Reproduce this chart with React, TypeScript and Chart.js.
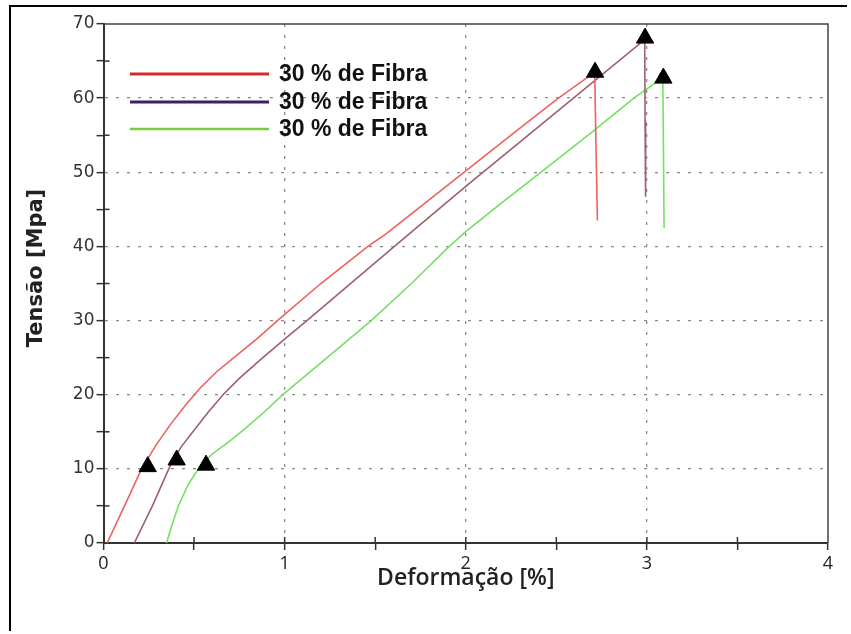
import React, { useEffect, useRef } from 'react';
import { Chart, registerables } from 'chart.js';

Chart.register(...registerables);

const legendLabels = ['30 % de Fibra', '30 % de Fibra', '30 % de Fibra'];
const legendColors = ['#d42a2a', '#3b1f6b', '#7cc843'];
const curveColors = ['#ee6161', '#9c6070', '#74e062'];

const redX = [0.02, 0.12, 0.21, 0.29, 0.37, 0.45, 0.53, 0.62, 0.72, 0.85, 0.97, 1.2, 1.46, 1.56, 1.99, 2.25, 2.506, 2.712, 2.718, 2.727];
const redY = [0, 5.2, 10, 13.2, 16, 18.5, 20.8, 23, 25, 27.6, 30.2, 35, 40, 41.7, 50, 55, 59.9, 63.5, 55, 43.5];

const brownX = [0.17, 0.27, 0.366, 0.43, 0.5, 0.58, 0.66, 0.75, 0.87, 1.0, 1.128, 1.606, 2.0, 2.3, 2.988, 2.99, 2.993];
const brownY = [0, 5, 10.3, 13, 15.2, 17.7, 20, 22.2, 24.8, 27.5, 30.1, 40, 48.1, 54.1, 67.9, 57, 46.7];

const greenX = [0.348, 0.38, 0.413, 0.47, 0.533, 0.6, 0.7, 0.77, 0.88, 0.99, 1.2, 1.478, 1.7, 1.909, 2.0, 2.2, 2.43, 2.7, 2.928, 3.05, 3.088, 3.092, 3.095];
const greenY = [0, 2.6, 5, 8, 10.3, 12, 13.8, 15.2, 17.5, 20, 24.3, 30, 35, 40, 42, 45.9, 50.3, 55.5, 60, 62.1, 62.4, 52, 42.5];

const markerX = [0.244, 0.404, 0.566, 2.714, 2.99, 3.091];
const markerY = [10.3, 11.2, 10.5, 63.5, 68.1, 62.7];

const xMin = 0;
const xMax = 4;
const xStep = 0.5;
const yMin = 0;
const yMax = 70;
const yStep = 5;

const xTitle = 'Deformação [%]';
const yTitle = 'Tensão [Mpa]';

const toPts = (xs: number[], ys: number[]) => xs.map((x, i) => ({ x, y: ys[i] }));

const framePlugin = {
  id: 'frameAndLegend',
  afterDraw(chart: any) {
    const { ctx, chartArea: a, scales } = chart;
    const xs = scales.x;
    const ys = scales.y;
    ctx.save();
    ctx.strokeStyle = '#444';
    ctx.lineWidth = 1.5;
    ctx.beginPath();
    ctx.moveTo(a.left, a.top);
    ctx.lineTo(a.right, a.top);
    ctx.lineTo(a.right, a.bottom);
    ctx.stroke();
    ctx.strokeStyle = '#333';
    ctx.lineWidth = 1.5;
    ys.ticks.forEach((t: any) => {
      if (t.value > yMin && t.value < yMax && t.value % 10 !== 0) {
        const py = ys.getPixelForValue(t.value);
        ctx.beginPath();
        ctx.moveTo(a.left, py);
        ctx.lineTo(a.left + 6, py);
        ctx.stroke();
      }
    });
    xs.ticks.forEach((t: any) => {
      if (t.value > xMin && t.value < xMax) {
        const px = xs.getPixelForValue(t.value);
        ctx.beginPath();
        ctx.moveTo(px, a.bottom);
        ctx.lineTo(px, a.bottom - 6);
        ctx.stroke();
      }
    });
    ctx.save();
    ctx.translate(37, 268);
    ctx.rotate(-Math.PI / 2);
    ctx.font = 'bold 21px "DejaVu Sans"';
    ctx.fillStyle = '#222';
    ctx.textAlign = 'center';
    ctx.textBaseline = 'middle';
    ctx.fillText(yTitle, 0, 0);
    ctx.restore();
    const rowsY = [74, 102, 129];
    legendLabels.forEach((lab, i) => {
      ctx.strokeStyle = legendColors[i];
      ctx.lineWidth = i === 2 ? 2.5 : 3;
      ctx.beginPath();
      ctx.moveTo(130, rowsY[i]);
      ctx.lineTo(269, rowsY[i]);
      ctx.stroke();
      ctx.font = 'bold 23px "Liberation Sans"';
      ctx.fillStyle = '#111';
      ctx.textAlign = 'left';
      ctx.textBaseline = 'middle';
      ctx.fillText(lab, 279, rowsY[i] + 1);
    });
    ctx.restore();
  },
};

export default function App() {
  const ref = useRef<HTMLCanvasElement | null>(null);
  useEffect(() => {
    if (!ref.current) return;
    const lineDs = (pts: any, color: string) => ({
      data: pts,
      showLine: true,
      borderColor: color,
      backgroundColor: color,
      borderWidth: 1.6,
      pointRadius: 0,
      tension: 0,
      order: 1,
    });
    const chart = new Chart(ref.current, {
      type: 'scatter',
      data: {
        datasets: [
          lineDs(toPts(redX, redY), curveColors[0]),
          lineDs(toPts(brownX, brownY), curveColors[1]),
          lineDs(toPts(greenX, greenY), curveColors[2]),
          {
            data: toPts(markerX, markerY),
            showLine: false,
            pointStyle: 'triangle',
            pointRadius: 10,
            backgroundColor: '#000',
            borderColor: '#000',
            borderWidth: 1,
            order: 0,
          },
        ],
      },
      options: {
        animation: false,
        responsive: false,
        devicePixelRatio: 1,
        layout: { padding: { left: 0, top: 24, right: 23, bottom: 0 } },
        plugins: { legend: { display: false }, tooltip: { enabled: false } },
        scales: {
          x: {
            type: 'linear',
            min: xMin,
            max: xMax,
            afterFit: (s: any) => { s.height = 91; },
            ticks: {
              stepSize: xStep,
              autoSkip: false,
              maxRotation: 0,
              padding: 3,
              color: '#222',
              font: { family: '"Open Sans"', size: 18 },
              callback: (v: any) => (Number(v) % 1 === 0 ? String(v) : ''),
            },
            grid: {
              color: (c: any) => {
                const v = c.tick ? c.tick.value : -1;
                return v % 1 === 0 && v > xMin && v < xMax ? '#8a8a8a' : 'rgba(0,0,0,0)';
              },
              lineWidth: 1.3,
              tickColor: '#333',
              tickLength: 7,
              tickWidth: 1.5,
            },
            border: { display: true, color: '#333', width: 2, dash: [3, 8] },
            title: {
              display: true,
              text: xTitle,
              color: '#222',
              font: { family: '"Open Sans"', size: 23, weight: '600' },
              padding: { top: 0, bottom: 42 },
            },
          },
          y: {
            type: 'linear',
            min: yMin,
            max: yMax,
            afterFit: (s: any) => { s.width = 103.5; },
            ticks: {
              stepSize: yStep,
              autoSkip: false,
              padding: 2,
              color: '#333',
              font: { family: '"DejaVu Sans"', size: 17 },
              callback: (v: any) => (Number(v) % 10 === 0 ? String(v) : ''),
            },
            grid: {
              color: (c: any) => {
                const v = c.tick ? c.tick.value : -1;
                return v % 10 === 0 && v > yMin && v < yMax ? '#8a8a8a' : 'rgba(0,0,0,0)';
              },
              lineWidth: 1.3,
              tickColor: '#333',
              tickLength: 7,
              tickWidth: 1.5,
            },
            border: { display: true, color: '#333', width: 2, dash: [3, 8] },
          },
        },
      },
      plugins: [framePlugin],
    });
    return () => chart.destroy();
  }, []);
  return (
    <div style={{ position: 'absolute', left: 0, top: 0, width: 851, height: 634, background: '#fff' }}>
      <div
        style={{
          position: 'absolute',
          left: 9,
          top: 5,
          width: 838,
          height: 626,
          borderLeft: '2px solid #000',
          borderTop: '2px solid #000',
          boxSizing: 'border-box',
        }}
      />
      <canvas ref={ref} width={851} height={634} style={{ position: 'absolute', left: 0, top: 0, width: 851, height: 634 }} />
    </div>
  );
}
